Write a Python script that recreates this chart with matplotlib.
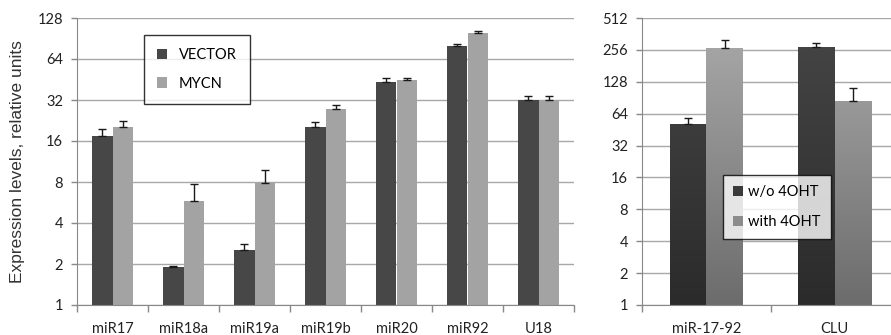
import matplotlib
matplotlib.use("Agg")
import matplotlib.pyplot as plt
import numpy as np
from matplotlib.patches import Patch
from matplotlib.colors import LinearSegmentedColormap

# ---- data ----
left_categories = ["miR17", "miR18a", "miR19a", "miR19b", "miR20", "miR92", "U18"]
vector_vals = [17.4, 1.89, 2.55, 20.2, 43.6, 79.3, 32.2]
vector_err = [2.1, 0.03, 0.24, 1.8, 3.0, 3.2, 1.8]
mycn_vals = [20.4, 5.8, 7.9, 27.6, 44.6, 99.3, 32.2]
mycn_err = [2.0, 1.9, 1.9, 1.9, 2.0, 3.4, 1.8]
left_ticks = [1, 2, 4, 8, 16, 32, 64, 128]

right_categories = ["miR-17-92", "CLU"]
wo_vals = [51, 270]
wo_err = [7, 26]
with_vals = [264, 84]
with_err = [55, 28]
right_ticks = [1, 2, 4, 8, 16, 32, 64, 128, 256, 512]

TICKFONT = "Lato"
W, H = 891, 335
fig = plt.figure(figsize=(W / 100, H / 100), dpi=100)

grid_c = "#a8a8a8"
spine_c = "#888888"
txt_c = "#222222"

def style_axes(ax, n, ticks):
    ax.set_yscale("log", base=2)
    ax.set_ylim(ticks[0], ticks[-1])
    ax.set_yticks(ticks)
    ax.set_yticklabels([str(t) for t in ticks], fontfamily=TICKFONT, fontsize=10.5,
                       color=txt_c)
    ax.yaxis.set_minor_locator(matplotlib.ticker.NullLocator())
    ax.set_xlim(0, n)
    ax.set_xticks(np.arange(n + 1), minor=True)
    ax.set_xticks(np.arange(n) + 0.5)
    ax.tick_params(axis="x", which="major", length=0, pad=12)
    ax.tick_params(axis="x", which="minor", length=5, color=spine_c, width=1)
    ax.tick_params(axis="y", length=4, color=spine_c, width=1, pad=6)
    for s in ["top", "right"]:
        ax.spines[s].set_visible(False)
    ax.spines["left"].set_color(spine_c)
    ax.spines["bottom"].set_color(spine_c)
    ax.grid(axis="y", color=grid_c, linewidth=1.0)
    ax.set_axisbelow(True)

# ---- left panel ----
ax1 = fig.add_axes([77 / W, 1 - 305 / H, 497 / W, 287 / H])
style_axes(ax1, len(left_categories), left_ticks)
ax1.set_xticklabels(left_categories, fontfamily=TICKFONT, fontsize=10.5, color=txt_c)
bw = 1 / 3.5
x = np.arange(len(left_categories)) + 0.5
dark = "#474747"
light = "#a3a3a3"
ekw = dict(ecolor="#1a1a1a", elinewidth=1.0, capsize=3, capthick=1.0)
ax1.bar(x - bw / 2, vector_vals, bw, color=dark,
        yerr=[np.zeros(len(x)), vector_err], error_kw=ekw, label="VECTOR")
ax1.bar(x + bw / 2, mycn_vals, bw, color=light,
        yerr=[np.zeros(len(x)), mycn_err], error_kw=ekw, label="MYCN")
leg1 = ax1.legend(loc="upper left", bbox_to_anchor=((144 - 77) / 497, (305 - 35) / 287),
                  frameon=True, fancybox=False, edgecolor="black", handlelength=0.7,
                  handleheight=0.7, borderpad=0.9, labelspacing=1.0,
                  prop={"family": TICKFONT, "size": 10.5}, borderaxespad=0)
leg1.get_frame().set_linewidth(1.0)
ax1.set_ylabel("Expression levels, relative units", fontfamily="Liberation Sans",
               fontsize=12.5, labelpad=9, color="#333333")

# ---- right panel ----
ax2 = fig.add_axes([642 / W, 1 - 305 / H, 257 / W, 287 / H])
style_axes(ax2, len(right_categories), right_ticks)
ax2.set_xticklabels(right_categories, fontfamily=TICKFONT, fontsize=10.5, color=txt_c)
x2 = np.arange(len(right_categories)) + 0.5
b_dark = ax2.bar(x2 - bw / 2, wo_vals, bw, color="#3a3a3a",
                 yerr=[np.zeros(len(x2)), wo_err], error_kw=ekw)
b_light = ax2.bar(x2 + bw / 2, with_vals, bw, color="#8c8c8c",
                  yerr=[np.zeros(len(x2)), with_err], error_kw=ekw)

grad = np.linspace(0, 1, 256).reshape(-1, 1)
cm_dark = LinearSegmentedColormap.from_list("d", ["#2b2b2b", "#464646"])
cm_light = LinearSegmentedColormap.from_list("l", ["#6c6c6c", "#ababab"])
for bars, cm in [(b_dark, cm_dark), (b_light, cm_light)]:
    for p in bars:
        im = ax2.imshow(grad, cmap=cm, aspect="auto", origin="lower",
                        extent=[0, 1, 0, 1], transform=ax2.transAxes, zorder=p.get_zorder())
        im.set_clip_path(p)
ax2.set_xlim(0, 2)
ax2.set_ylim(1, 512)

handles = [Patch(facecolor="#3a3a3a", label="w/o 4OHT"),
           Patch(facecolor="#8c8c8c", label="with 4OHT")]
leg2 = ax2.legend(handles=handles, loc="upper left",
                  bbox_to_anchor=((723 - 642) / 257, (305 - 175) / 287),
                  frameon=True, fancybox=False, edgecolor="black", handlelength=0.7,
                  handleheight=0.7, handletextpad=0.3, borderpad=0.7, labelspacing=1.1,
                  prop={"family": TICKFONT, "size": 10.5}, borderaxespad=0)
leg2.get_frame().set_linewidth(1.0)
leg2.set_zorder(10)

fig.savefig("out.png", dpi=100)
